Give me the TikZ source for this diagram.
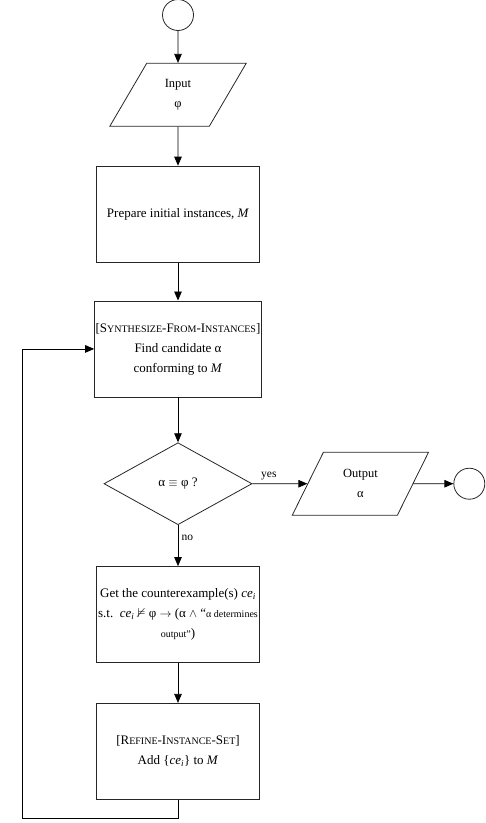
\documentclass[tikz,border=0pt]{standalone}
\usepackage{amssymb}
\usepackage{fontspec}
\setmainfont{Liberation Serif}
\usetikzlibrary{arrows.meta,positioning,shapes.geometric}
\newcommand{\fakesc}[1]{{\fontsize{10}{12}\selectfont #1}}

\begin{document}
\begin{tikzpicture}[
  node distance=40pt and 40pt,
  box/.style={rectangle, draw=black!85, line width=0.8pt, minimum width=163pt, minimum height=96pt, inner sep=1pt, font=\fontsize{13}{20}\selectfont, align=center},
  io/.style={trapezium, trapezium left angle=63, trapezium right angle=117, trapezium stretches=true, draw=black!85, line width=0.8pt, minimum width=137pt, minimum height=63pt, inner sep=1pt, font=\fontsize{12.5}{20}\selectfont, align=center},
  decision/.style={diamond, draw=black!85, line width=0.8pt, minimum width=148pt, minimum height=82pt, inner sep=0pt, font=\fontsize{13}{16}\selectfont},
  terminal/.style={circle, draw=black!85, line width=0.8pt, minimum size=31pt, inner sep=0pt},
  arrow/.style={-{Triangle[length=9pt,width=7.5pt]}, line width=0.8pt},
  tag/.style={font=\fontsize{11.5}{13}\selectfont},
]
\useasboundingbox (0,0) rectangle (486pt,-823pt);

% Start
\node[terminal] (start) at (178pt,-15pt) {};

% Input
\node[io, below=32pt of start] (input) {Input\\φ};
\draw[arrow] (start) -- (input);

% Initial instances
\node[box, below=39pt of input] (prepare) {Prepare initial instances, \textit{M}};
\draw[arrow] (input) -- (prepare);

% Synthesis step
\node[box, below=38pt of prepare] (synth) {[S\fakesc{YNTHESIZE}-F\fakesc{ROM}-I\fakesc{NSTANCES}]\\Find candidate α\\conforming to \textit{M}};
\draw[arrow] (prepare) -- (synth);

% Check
\node[decision, below=45pt of synth] (check) {α $\equiv$ φ ?};
\draw[arrow] (synth) -- (check);

% Output
\node[io, right=55pt of check] (output) {Output\\α};
\draw[arrow] (check) -- node[tag, above, pos=0.3] {yes} (output);

% End
\node[terminal, right=40pt of output] (stop) {};
\draw[arrow] (output) -- (stop);

% Counterexample
\node[box, below=41pt of check] (counter) {Get the counterexample(s) \textit{ce\textsubscript{i}}\\s.t.\ \ \textit{ce\textsubscript{i}} $\nvDash$ φ $\rightarrow$ (α $\wedge$ ``{\fontsize{10}{12}\selectfont α determines}\\{\fontsize{10}{12}\selectfont output''})};
\draw[arrow] (check) -- node[tag, right, pos=0.3] {no} (counter);

% Refinement
\node[box, below=40pt of counter] (refine) {[R\fakesc{EFINE}-I\fakesc{NSTANCE}-S\fakesc{ET}]\\Add \{\textit{ce\textsubscript{i}}\} to \textit{M}};
\draw[arrow] (counter) -- (refine);

% Loop back
\coordinate (back) at (22pt,-818pt);
\draw[arrow] (refine.south) |- (back) |- (synth.west);

\end{tikzpicture}
\end{document}
